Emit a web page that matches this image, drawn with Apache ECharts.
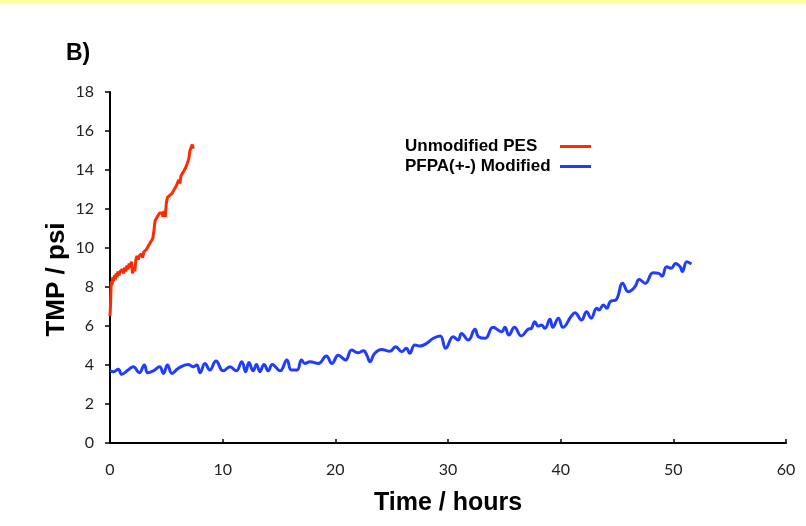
<!DOCTYPE html>
<html>
<head>
<meta charset="utf-8">
<script src="https://cdn.jsdelivr.net/npm/echarts@6/dist/echarts.min.js"></script>
<style>
html,body{margin:0;padding:0;background:#fff;}
#chart{width:806px;height:526px;}
</style>
</head>
<body>
<div id="chart"></div>
<script>
// ---- data ----
const xTicks = [0, 10, 20, 30, 40, 50, 60];
const yTicks = [0, 2, 4, 6, 8, 10, 12, 14, 16, 18];

const seriesNames = ["Unmodified PES", "PFPA(+-) Modified"];

const pesTime = [0.0, 0.04, 0.08, 0.12, 0.18, 0.25, 0.32, 0.4, 0.48, 0.55, 0.62, 0.7, 0.8, 0.9, 1.0, 1.1, 1.2, 1.3, 1.4, 1.5, 1.6, 1.7, 1.8, 1.9, 2.0, 2.1, 2.2, 2.3, 2.4, 2.5, 2.6, 2.7, 2.8, 2.9, 3.0, 3.1, 3.2, 3.3, 3.4, 3.5, 3.6, 3.7, 3.8, 3.9, 4.0, 4.1, 4.2, 4.3, 4.4, 4.5, 4.6, 4.7, 4.8, 4.9, 5.0, 5.1, 5.2, 5.3, 5.4, 5.5, 5.6, 5.7, 5.8, 5.9, 6.0, 6.1, 6.2, 6.3, 6.4, 6.5, 6.6, 6.7, 6.8, 6.9, 7.0, 7.1, 7.2, 7.3, 7.4];
const pesTmp = [6.5, 7.0, 7.8, 8.3, 8.1, 8.5, 8.3, 8.6, 8.4, 8.7, 8.5, 8.8, 8.6, 8.8, 8.7, 8.9, 8.7, 9.0, 8.8, 9.1, 8.9, 9.2, 9.0, 9.3, 8.7, 9.0, 8.8, 9.4, 9.6, 9.4, 9.6, 9.5, 9.7, 9.5, 9.8, 9.7, 9.9, 9.8, 10.1, 10.0, 10.3, 10.2, 10.5, 10.9, 11.4, 11.3, 11.6, 11.5, 11.8, 11.7, 11.8, 11.6, 11.9, 11.6, 12.3, 12.6, 12.5, 12.7, 12.6, 12.8, 12.7, 13.0, 12.9, 13.2, 13.1, 13.5, 13.3, 13.7, 13.6, 13.9, 13.8, 14.1, 14.0, 14.4, 14.6, 15.0, 14.9, 15.3, 15.1];

const pfpaTime = [0.0, 0.3, 0.74, 1.04, 1.6, 2.07, 2.6, 3.05, 3.35, 3.85, 4.4, 4.75, 5.1, 5.5, 6.06, 6.95, 7.4, 7.7, 8.0, 8.43, 8.87, 9.4, 10.05, 10.65, 11.2, 11.7, 12.04, 12.33, 12.7, 13.0, 13.3, 13.67, 14.05, 14.4, 15.1, 15.7, 16.1, 16.6, 17.0, 17.3, 17.75, 18.5, 19.2, 19.7, 20.26, 20.9, 21.45, 22.0, 22.5, 22.8, 23.07, 23.5, 24.1, 24.85, 25.35, 25.9, 26.3, 26.6, 27.05, 27.5, 28.1, 28.7, 29.3, 29.8, 30.46, 30.9, 31.2, 31.8, 32.4, 32.7, 33.3, 34.0, 34.76, 35.05, 35.4, 35.9, 36.5, 37.1, 37.4, 37.7, 38.0, 38.3, 38.6, 39.05, 39.3, 39.8, 40.2, 40.95, 41.26, 41.85, 42.3, 42.7, 43.2, 43.4, 43.8, 44.1, 44.4, 44.95, 45.5, 46.0, 46.6, 46.97, 47.5, 48.2, 48.7, 49.0, 49.4, 49.8, 50.2, 50.6, 50.8, 51.2, 51.6];
const pfpaTmp = [3.7, 3.66, 3.78, 3.52, 3.74, 3.91, 3.6, 4.0, 3.6, 3.7, 3.91, 3.57, 4.0, 3.57, 3.83, 4.03, 3.91, 4.0, 3.6, 4.08, 3.74, 4.2, 3.7, 3.91, 3.7, 4.17, 3.66, 4.13, 3.7, 4.03, 3.66, 4.03, 3.7, 4.03, 3.7, 4.26, 3.74, 3.74, 4.26, 4.08, 4.17, 4.08, 4.46, 4.08, 4.5, 4.26, 4.77, 4.63, 4.73, 4.5, 4.17, 4.6, 4.8, 4.7, 4.94, 4.68, 4.86, 4.6, 5.03, 4.97, 5.11, 5.37, 5.49, 4.86, 5.45, 5.28, 5.62, 5.28, 5.83, 5.45, 5.37, 5.93, 5.71, 5.93, 5.54, 5.93, 5.49, 5.83, 5.88, 6.22, 6.0, 6.05, 5.88, 6.34, 5.93, 6.4, 5.93, 6.51, 6.68, 6.31, 6.73, 6.4, 6.91, 6.82, 7.08, 6.91, 7.25, 7.37, 8.19, 7.76, 8.02, 8.39, 8.19, 8.73, 8.7, 8.56, 9.04, 8.96, 9.21, 9.04, 8.78, 9.3, 9.18];

const zip = (a, b) => a.map((v, i) => [v, b[i]]);

const chart = echarts.init(document.getElementById('chart'), null, {renderer: 'canvas'});
const labelFont = {fontFamily: 'Lato', fontSize: 16, color: '#222'};
const legendFont = {fontFamily: 'Liberation Sans', fontWeight: 'bold', fontSize: 17, color: '#000'};
chart.setOption({
  backgroundColor: '#ffffff',
  animation: false,
  graphic: [
    {type: 'rect', left: 0, top: 0, shape: {width: 806, height: 3}, style: {fill: '#ffff99'}, silent: true}
  ],
  title: {
    text: 'B)', left: 66, top: 42, padding: 0,
    textStyle: {fontFamily: 'Liberation Sans', fontWeight: 'bold', fontSize: 23, color: '#000'}
  },
  legend: {
    orient: 'vertical', left: 405, top: 138, padding: 0,
    align: 'right', itemWidth: 31, itemHeight: 3, itemGap: 3,
    icon: 'rect',
    data: seriesNames,
    formatter: '{a|{name}}',
    textStyle: Object.assign({rich: {a: Object.assign({width: 150, align: 'left'}, legendFont)}}, legendFont)
  },
  grid: {left: 110, right: 20, top: 92, bottom: 83, containLabel: false},
  xAxis: {
    type: 'value', min: xTicks[0], max: xTicks[xTicks.length - 1], interval: 10,
    name: 'Time / hours', nameLocation: 'middle', nameGap: 48,
    nameTextStyle: {fontFamily: 'Liberation Sans', fontWeight: 'bold', fontSize: 25, color: '#000'},
    axisLine: {lineStyle: {color: '#000', width: 2}},
    axisTick: {inside: true, length: 4, lineStyle: {color: '#000', width: 1.5}},
    axisLabel: Object.assign({margin: 19}, labelFont),
    splitLine: {show: false}
  },
  yAxis: {
    type: 'value', min: yTicks[0], max: yTicks[yTicks.length - 1], interval: 2,
    name: 'TMP / psi', nameLocation: 'middle', nameGap: 40, nameMoveOverlap: false,
    nameTextStyle: {fontFamily: 'Liberation Sans', fontWeight: 'bold', fontSize: 26, color: '#000', padding: [0, 24, 0, 0]},
    axisLine: {show: true, lineStyle: {color: '#000', width: 2}},
    axisTick: {show: true, length: 5, lineStyle: {color: '#000', width: 1.5}},
    axisLabel: Object.assign({margin: 16}, labelFont),
    splitLine: {show: false}
  },
  series: [
    {
      name: seriesNames[0], type: 'line', data: zip(pesTime, pesTmp),
      showSymbol: false, symbol: 'none', smooth: false,
      lineStyle: {color: '#ff2a00', width: 3},
      itemStyle: {color: '#ff2a00'}
    },
    {
      name: seriesNames[1], type: 'line', data: zip(pfpaTime, pfpaTmp),
      showSymbol: false, symbol: 'none', smooth: 0.45,
      lineStyle: {color: '#1f3cff', width: 3},
      itemStyle: {color: '#1f3cff'}
    }
  ]
});
</script>
</body>
</html>
